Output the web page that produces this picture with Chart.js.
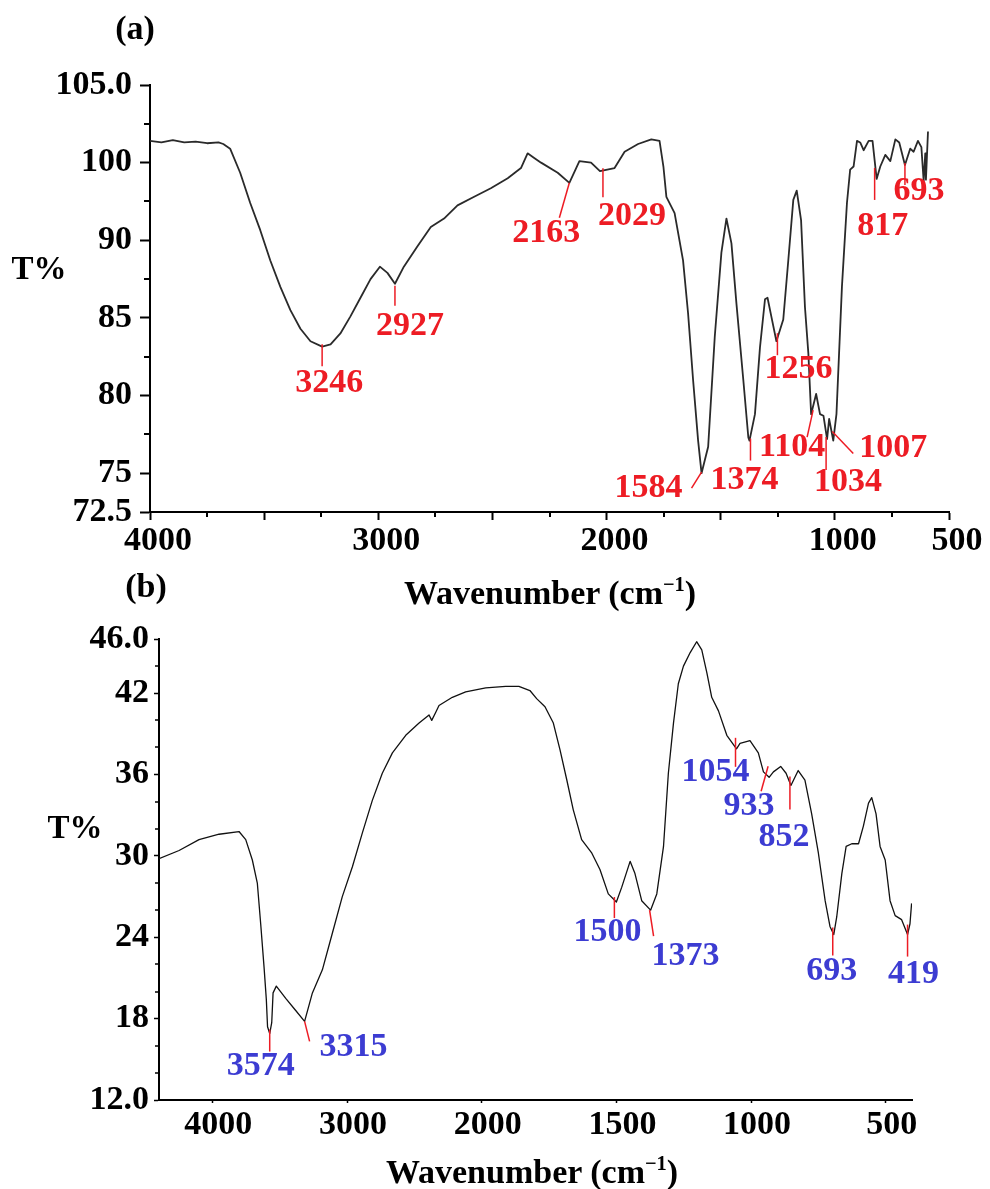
<!DOCTYPE html>
<html>
<head>
<meta charset="utf-8">
<script src="https://cdn.jsdelivr.net/npm/chart.js@4.4.1/dist/chart.umd.min.js"></script>
<style>
  html, body { margin: 0; padding: 0; background: #fff; }
  #page { position: relative; width: 990px; height: 1189px; overflow: hidden;
          font-family: "Liberation Serif", "Times New Roman", serif; font-weight: bold; }
  canvas { position: absolute; left: 0; }
  .txt { position: absolute; transform: translate(-50%, -50%); line-height: 1;
         white-space: nowrap; color: #000; font-size: 34px; }
  .txt sup { font-size: 0.6em; vertical-align: baseline; position: relative; top: -0.62em; }
</style>
</head>
<body>
<div id="page">
  <canvas id="chartA" width="990" height="560" style="top:0"></canvas>
  <canvas id="chartB" width="990" height="629" style="top:560px"></canvas>

  <div class="txt" style="left:135px; top:28px">(a)</div>
  <div class="txt" style="left:39px; top:268px; font-size:33px">T%</div>
  <div class="txt" style="left:550px; top:593px">Wavenumber (cm<sup>−1</sup>)</div>

  <div class="txt" style="left:146px; top:586px">(b)</div>
  <div class="txt" style="left:75px; top:827px; font-size:33px">T%</div>
  <div class="txt" style="left:532px; top:1172px">Wavenumber (cm<sup>−1</sup>)</div>
</div>

<script>
// ---- panel (a) data ----
const wavenumberA = [4000, 3950, 3900, 3850, 3800, 3750, 3700, 3679, 3649, 3605, 3561, 3517, 3473, 3429, 3385,
  3341, 3297, 3246, 3209, 3166, 3122, 3078, 3034, 2993, 2960, 2927, 2888, 2829, 2770, 2712, 2653, 2580, 2507,
  2433, 2375, 2346, 2317, 2287, 2214, 2163, 2119, 2068, 2029, 1965, 1921, 1862, 1804, 1768, 1751, 1738, 1702,
  1665, 1643, 1621, 1599, 1584, 1555, 1526, 1497, 1475, 1453, 1431, 1401, 1379, 1374, 1350, 1328, 1306, 1295,
  1277, 1256, 1226, 1204, 1182, 1167, 1148, 1131, 1116, 1104, 1082, 1065, 1050, 1034, 1025, 1007, 993, 969,
  947, 933, 918, 903, 889, 874, 852, 835, 817, 801, 779, 757, 735, 718, 693, 670, 655, 636, 621, 611, 604, 601, 592];
const transmittanceA = [101.4, 101.3, 101.45, 101.3, 101.35, 101.25, 101.3, 101.2, 100.9, 98.7, 94.8, 91.3, 88.7, 87.0, 85.5,
  84.3, 83.5, 83.15, 83.3, 84.0, 85.1, 86.3, 87.5, 88.3, 87.9, 87.2, 88.3, 89.6, 91.7, 92.8, 94.5, 95.6, 96.7,
  98.0, 99.3, 100.6, 100.3, 100.0, 98.7, 97.4, 100.1, 100.0, 98.9, 99.3, 100.7, 101.2, 101.5, 101.4, 99.5, 95.6, 93.5,
  88.7, 85.3, 81.0, 77.1, 75.0, 76.7, 83.8, 89.2, 92.8, 89.8, 85.9, 81.0, 77.3, 77.1, 78.8, 83.1, 86.2, 86.3,
  85.0, 83.5, 84.9, 88.7, 95.2, 96.4, 92.6, 85.7, 82.7, 78.8, 80.1, 78.8, 78.7, 77.2, 78.5, 77.1, 78.8, 87.0,
  94.8, 99.1, 99.5, 101.4, 101.3, 100.8, 101.4, 101.4, 97.9, 99.5, 100.5, 100.1, 101.5, 101.3, 99.7, 100.9, 100.7, 101.4, 101.0, 97.6, 100.6, 97.8, 102.0];
const peaksA = [3246, 2927, 2163, 2029, 1584, 1374, 1256, 1104, 1034, 1007, 817, 693];
const peakTA = [83.3, 87.2, 97.4, 98.9, 75.0, 77.1, 83.5, 78.8, 77.2, 77.1, 97.9, 99.7];
const xTicksA = [4000, 3500, 3000, 2500, 2000, 1500, 1000, 500];
const xTickTextA = ['4000', '', '3000', '', '2000', '', '1000', '500'];
const xMinorA = [3750, 3250, 2750, 2250, 1750, 1250, 750];
const yTicksA = [105, 100, 90, 85, 80, 75, 72.5];
const yTickTextA = ['105.0', '100', '90', '85', '80', '75', '72.5'];
const yMinorA = [102.5, 95, 87.5, 82.5, 77.5];

// ---- panel (b) data ----
const wavenumberB = [4396, 4247, 4099, 3950, 3802, 3752, 3703, 3666, 3641, 3616, 3599, 3590, 3574, 3559, 3549,
  3525, 3455, 3381, 3315, 3257, 3183, 3109, 3035, 2960, 2886, 2812, 2738, 2663, 2564, 2465, 2391, 2371, 2341,
  2317, 2218, 2119, 1985, 1911, 1862, 1821, 1796, 1765, 1734, 1709, 1684, 1660, 1629, 1591, 1561, 1530, 1500,
  1480, 1449, 1431, 1406, 1373, 1350, 1325, 1307, 1288, 1270, 1251, 1226, 1202, 1183, 1164, 1146, 1121, 1090,
  1054, 1041, 1004, 973, 954, 933, 917, 890, 870, 852, 825, 800, 775, 750, 725, 707, 693, 682, 663, 647, 626,
  601, 583, 564, 552, 536, 521, 502, 484, 465, 441, 419, 410, 404];
const transmittanceB = [29.8, 30.4, 31.2, 31.6, 31.8, 31.2, 29.7, 28.0, 25.0, 21.8, 19.4, 17.4, 16.9, 17.7, 19.9,
  20.4, 19.5, 18.6, 17.8, 19.9, 21.6, 24.3, 27.0, 29.2, 31.7, 34.1, 36.1, 37.6, 38.9, 39.8, 40.4, 40.0, 40.6,
  41.1, 41.7, 42.1, 42.4, 42.5, 42.5, 42.2, 41.6, 41.0, 39.8, 37.8, 35.6, 33.4, 31.2, 30.2, 29.0, 27.2, 26.6,
  27.7, 29.6, 28.7, 26.7, 26.0, 27.2, 30.7, 36.1, 39.8, 42.7, 44.0, 45.0, 45.8, 45.2, 43.5, 41.7, 40.7, 38.9,
  37.9, 38.3, 38.5, 37.6, 36.2, 35.8, 36.2, 36.6, 36.1, 35.2, 36.3, 35.6, 33.1, 30.2, 26.7, 24.8, 24.2, 25.5, 28.7, 30.7, 30.9,
  30.9, 32.2, 33.9, 34.3, 33.1, 30.7, 29.7, 26.7, 25.6, 25.3, 24.2, 25.0, 26.5];
const peaksB = [3574, 3315, 1500, 1373, 1054, 933, 852, 693, 419];
const peakTB = [16.9, 17.8, 26.6, 26.0, 37.9, 35.8, 35.2, 24.2, 24.2];
const xTicksB = [4000, 3000, 2000, 1500, 1000, 500];
const yTicksB = [46, 42, 36, 30, 24, 18, 12];
const yTickTextB = ['46.0', '42', '36', '30', '24', '18', '12.0'];
const yMinorB = [44, 40, 38, 34, 32, 28, 26, 22, 20, 16, 14];

// ---- axis mappings ----
// (a) the printed T% labels sit on evenly spaced slots, so map value -> slot
const slotStopsA = [[72.5, 0], [75, 0.5], [80, 1.5], [85, 2.5], [90, 3.5], [100, 4.5], [105, 5.5]];
// (b) the wavenumber axis doubles its scale below 2000
const xStopsB = [[500, -1000], [2000, 2000], [4000, 4000]];

function piecewise(stops, v) {
  let i = 1;
  while (i < stops.length - 1 && v > stops[i][0]) i++;
  const [a0, b0] = stops[i - 1], [a1, b1] = stops[i];
  return b0 + (v - a0) * (b1 - b0) / (a1 - a0);
}
const slotA = v => piecewise(slotStopsA, v);
const axisXB = v => piecewise(xStopsB, v);
const same = v => v;

// ---- marker layout: [x1, y1, x2, y2, labelDx, labelDy] relative to the peak point ----
const markA = [
  [0, 0, 0, 22, 7, 39], [0, 2, 0, 22, 15, 42], [0, 0, -10, 35, -23, 50], [3, -3, 3, 26, 32, 45],
  [0, -1, -10, 15, -53, 15], [1, -2, 1, 20, -5, 40], [1, -8, 1, 14, 22, 28], [2, -4, -4, 23, -19, 33],
  [-1, -2, -1, 31, 21, 43], [-1, -9, 20, 13, 60, 8], [-2, -11, -2, 21, 6, 47], [0, -2, 0, 20, 14, 26]
];
const markB = [
  [0, -4, 0, 18, -9, 33], [0, 0, 5, 20, 49, 26], [-2, -5, -2, 16, -9, 30], [-1, 0, 3, 26, 35, 46],
  [-1, -11, -1, 18, -21, 23], [-1, -11, -8, 14, -20, 29], [-1, -9, -1, 24, -7, 52],
  [-1, -7, -1, 21, -2, 37], [0, -10, 0, 22, 6, 40]
];

const SERIF = '"Liberation Serif", "Times New Roman", serif';
const tickFont = { family: SERIF, size: 34, weight: 'bold' };

function minorTicks(xs, ys, lenX, lenY, width) {
  return {
    id: 'minorTicks',
    afterDraw(chart) {
      const { ctx, scales: { x, y } } = chart;
      ctx.save();
      ctx.strokeStyle = '#000';
      ctx.lineWidth = width;
      ctx.beginPath();
      xs.forEach(v => {
        const px = Math.round(x.getPixelForValue(v));
        ctx.moveTo(px, x.top);
        ctx.lineTo(px, x.top + lenX);
      });
      ys.forEach(v => {
        const py = Math.round(y.getPixelForValue(v));
        ctx.moveTo(y.right, py);
        ctx.lineTo(y.right - lenY, py);
      });
      ctx.stroke();
      ctx.restore();
    }
  };
}

function peakMarks(peaks, peakT, layout, toX, toY, labelColor) {
  return {
    id: 'peakMarks',
    afterDatasetsDraw(chart) {
      const { ctx, scales: { x, y } } = chart;
      ctx.save();
      ctx.font = 'bold 34px ' + SERIF;
      ctx.textAlign = 'center';
      ctx.textBaseline = 'middle';
      peaks.forEach((p, i) => {
        const ax = x.getPixelForValue(toX(p));
        const ay = y.getPixelForValue(toY(peakT[i]));
        const [x1, y1, x2, y2, lx, ly] = layout[i];
        ctx.strokeStyle = '#ed1c24';
        ctx.lineWidth = 1.5;
        ctx.beginPath();
        ctx.moveTo(ax + x1, ay + y1);
        ctx.lineTo(ax + x2, ay + y2);
        ctx.stroke();
        ctx.fillStyle = labelColor;
        ctx.fillText(String(p), ax + lx, ay + ly);
      });
      ctx.restore();
    }
  };
}

function axisGrid(len, width) {
  return { display: true, drawOnChartArea: false, drawTicks: true, tickLength: len, tickWidth: width, tickColor: '#000' };
}

// ---- chart (a) ----
new Chart(document.getElementById('chartA'), {
  type: 'line',
  data: {
    datasets: [{
      data: wavenumberA.map((w, i) => ({ x: w, y: slotA(transmittanceA[i]) })),
      borderColor: '#2a2a2a',
      borderWidth: 1.8,
      borderJoinStyle: 'round',
      pointRadius: 0,
      tension: 0,
      fill: false
    }]
  },
  options: {
    responsive: false,
    animation: false,
    events: [],
    layout: { padding: { top: 85, right: 41, left: 0, bottom: 0 } },
    plugins: { legend: { display: false }, tooltip: { enabled: false } },
    scales: {
      x: {
        type: 'linear', reverse: true, min: 500, max: 4000,
        afterFit: s => { s.height = 48; },
        afterBuildTicks: s => { s.ticks = xTicksA.map(v => ({ value: v })); },
        ticks: { autoSkip: false, maxRotation: 0, padding: 1, labelOffset: 8, color: '#000', font: tickFont,
                 callback: (v, i) => xTickTextA[i] },
        grid: axisGrid(8, 2),
        border: { display: true, color: '#000', width: 2 }
      },
      y: {
        type: 'linear', min: 0, max: 5.5,
        afterFit: s => { s.width = 150; },
        afterBuildTicks: s => { s.ticks = yTicksA.map(v => ({ value: slotA(v) })); },
        ticks: { autoSkip: false, padding: 8, color: '#000', font: tickFont,
                 callback: (v, i) => yTickTextA[i] },
        grid: axisGrid(10, 2),
        border: { display: true, color: '#000', width: 2 }
      }
    }
  },
  plugins: [
    minorTicks(xMinorA, yMinorA.map(slotA), 5, 6, 2),
    peakMarks(peaksA, peakTA, markA, same, slotA, '#ed1c24')
  ]
});

// ---- chart (b) ----
new Chart(document.getElementById('chartB'), {
  type: 'line',
  data: {
    datasets: [{
      data: wavenumberB.map((w, i) => ({ x: axisXB(w), y: transmittanceB[i] })),
      borderColor: '#111',
      borderWidth: 1.3,
      borderJoinStyle: 'round',
      pointRadius: 0,
      tension: 0,
      fill: false
    }]
  },
  options: {
    responsive: false,
    animation: false,
    events: [],
    layout: { padding: { top: 79, right: 78, left: 0, bottom: 0 } },
    plugins: { legend: { display: false }, tooltip: { enabled: false } },
    scales: {
      x: {
        type: 'linear', reverse: true, min: -1195, max: 4396,
        afterFit: s => { s.height = 89; },
        afterBuildTicks: s => { s.ticks = xTicksB.map(v => ({ value: axisXB(v) })); },
        ticks: { autoSkip: false, maxRotation: 0, padding: 2, labelOffset: 6, color: '#000', font: tickFont,
                 callback: (v, i) => String(xTicksB[i]) },
        grid: axisGrid(3, 1.5),
        border: { display: true, color: '#000', width: 2 }
      },
      y: {
        type: 'linear', min: 12, max: 46,
        afterFit: s => { s.width = 159; },
        afterBuildTicks: s => { s.ticks = yTicksB.map(v => ({ value: v })); },
        ticks: { autoSkip: false, padding: 5, color: '#000', font: tickFont,
                 callback: (v, i) => yTickTextB[i] },
        grid: axisGrid(5, 1.5),
        border: { display: true, color: '#000', width: 2 }
      }
    }
  },
  plugins: [
    minorTicks([], yMinorB, 0, 4, 1.5),
    peakMarks(peaksB, peakTB, markB, axisXB, same, '#3c3cd2')
  ]
});
</script>
</body>
</html>
